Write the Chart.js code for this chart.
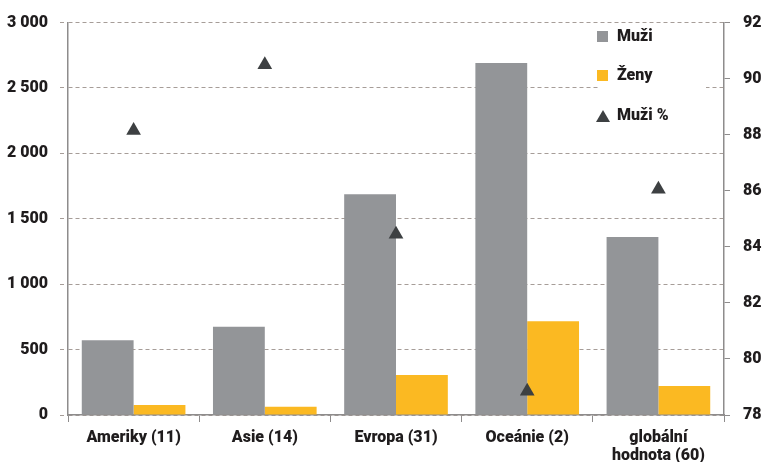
<!DOCTYPE html>
<html>
<head>
<meta charset="utf-8">
<script src="https://cdn.jsdelivr.net/npm/chart.js@4"></script>
<style>
    html, body { margin: 0; padding: 0; background: #fff; }
    #wrap { width: 765px; height: 462px; }
</style>
</head>
<body>
<div id="wrap"><canvas id="chart" width="765" height="462"></canvas></div>
<script>
// Data
const categories = ['Ameriky (11)', 'Asie (14)', 'Evropa (31)', 'Oceánie (2)', ['globální', 'hodnota (60)']];
const muzi = [572, 675, 1688, 2692, 1360];
const zeny = [76, 64, 305, 717, 221];
const muziPct = [88.15, 90.5, 84.45, 78.85, 86.05];

const FONT = 'Roboto, "DejaVu Sans", sans-serif';
const TEXT = '#1f1c1d';
const GRID = '#a69d98';
const AXIS = '#8e8c8c';

// Format numbers with a space as thousands separator (e.g. 3 000)
function formatCZ(v) {
    return String(v).replace(/\B(?=(\d{3})+(?!\d))/g, ' ');
}

// Legend drawn inside the plot with a white box behind it
const boxLegend = {
    id: 'boxLegend',
    afterDatasetsDraw(chart) {
        const ctx = chart.ctx;
        const ds = chart.data.datasets;
        ctx.save();
        ctx.fillStyle = '#fff';
        ctx.fillRect(598, 26, 108, 104);
        ctx.font = '900 16px ' + FONT;
        ctx.textBaseline = 'middle';
        const rows = [37, 76, 116];
        ds.forEach((d, i) => {
            const y = rows[i];
            if (d.type === 'line') {
                ctx.fillStyle = d.pointBackgroundColor;
                ctx.beginPath();
                ctx.moveTo(603, y - 6);
                ctx.lineTo(610, y + 6);
                ctx.lineTo(596, y + 6);
                ctx.closePath();
                ctx.fill();
            } else {
                ctx.fillStyle = d.backgroundColor;
                ctx.fillRect(597, y - 6, 11, 11);
            }
            ctx.fillStyle = TEXT;
            ctx.fillText(d.label, 617, y);
        });
        ctx.restore();
    }
};

const tickFont = { family: FONT, size: 16, weight: '900' };

const ctx = document.getElementById('chart').getContext('2d');

new Chart(ctx, {
    type: 'bar',
    data: {
        labels: categories,
        datasets: [
            {
                label: 'Muži',
                data: muzi,
                backgroundColor: '#939598',
                yAxisID: 'y',
                order: 2,
                categoryPercentage: 0.79,
                barPercentage: 1.0
            },
            {
                label: 'Ženy',
                data: zeny,
                backgroundColor: '#fbb922',
                yAxisID: 'y',
                order: 2,
                categoryPercentage: 0.79,
                barPercentage: 1.0
            },
            {
                type: 'line',
                label: 'Muži %',
                data: muziPct,
                yAxisID: 'y1',
                showLine: false,
                pointStyle: 'triangle',
                pointRadius: 8.5,
                pointBorderWidth: 0,
                pointBackgroundColor: '#3d4042',
                pointBorderColor: '#3d4042',
                order: 0
            }
        ]
    },
    options: {
        responsive: false,
        animation: false,
        layout: { padding: { top: 22, left: 0, right: 0, bottom: 0 } },
        plugins: {
            legend: { display: false },
            tooltip: { enabled: false }
        },
        scales: {
            x: {
                grid: {
                    offset: true,
                    drawOnChartArea: false,
                    drawTicks: true,
                    tickLength: 7,
                    color: AXIS
                },
                border: { color: AXIS, width: 1.5 },
                ticks: {
                    color: TEXT,
                    padding: 7,
                    maxRotation: 0,
                    font: Object.assign({ lineHeight: 1.12 }, tickFont)
                },
                afterFit(scale) { scale.height = 47; }
            },
            y: {
                position: 'left',
                min: 0,
                max: 3000,
                ticks: {
                    stepSize: 500,
                    color: TEXT,
                    padding: 12,
                    font: tickFont,
                    callback: v => formatCZ(v)
                },
                grid: {
                    color: GRID,
                    lineWidth: 1,
                    tickLength: 8,
                    tickBorderDash: [4, 3]
                },
                border: { color: AXIS, width: 1.5, dash: [4, 3] },
                afterFit(scale) { scale.width = 68; }
            },
            y1: {
                position: 'right',
                min: 78,
                max: 92,
                ticks: {
                    stepSize: 2,
                    color: TEXT,
                    padding: 13,
                    font: tickFont
                },
                grid: {
                    drawOnChartArea: false,
                    tickLength: 6,
                    color: AXIS
                },
                border: { color: AXIS, width: 1.5 },
                afterFit(scale) { scale.width = 41; }
            }
        }
    },
    plugins: [boxLegend]
});
</script>
</body>
</html>
